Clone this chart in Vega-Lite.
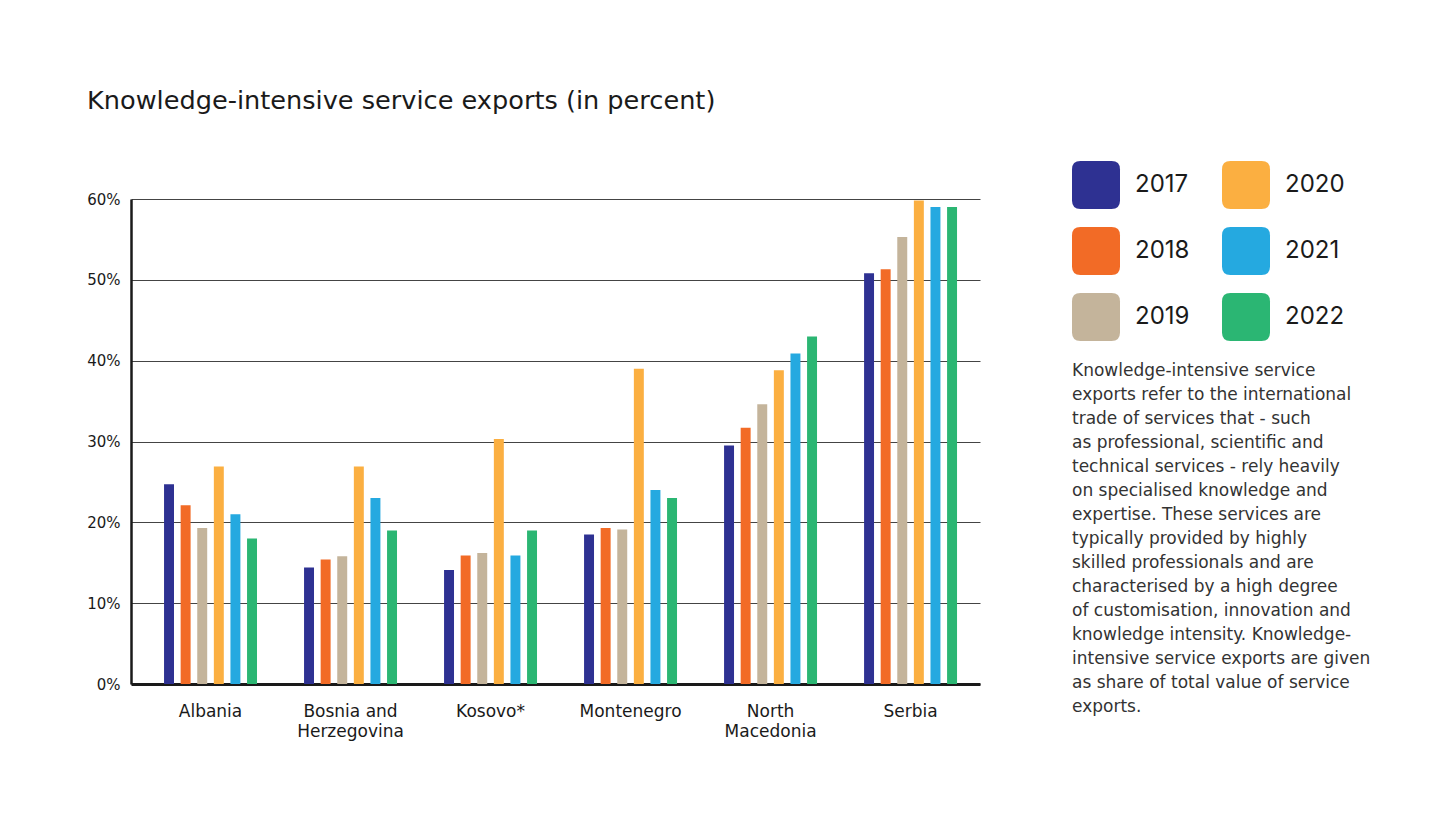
{
  "$schema": "https://vega.github.io/schema/vega-lite/v6.json",
  "width": 849,
  "height": 485,
  "autosize": {"type": "none"},
  "padding": {"left": 131, "top": 199, "right": 464, "bottom": 152},
  "background": "white",
  "title": {
    "text": "Knowledge-intensive service exports (in percent)",
    "anchor": "start",
    "frame": "group",
    "dx": -44,
    "offset": 46,
    "fontSize": 25.6,
    "font": "DejaVu Sans",
    "fontWeight": "normal",
    "color": "#1a1a1a"
  },
  "data": {
    "values": [
      {"country": "Albania", "year": "2017", "value": 24.7},
      {"country": "Albania", "year": "2018", "value": 22.1},
      {"country": "Albania", "year": "2019", "value": 19.3},
      {"country": "Albania", "year": "2020", "value": 26.9},
      {"country": "Albania", "year": "2021", "value": 21.0},
      {"country": "Albania", "year": "2022", "value": 18.0},
      {"country": "Bosnia and Herzegovina", "year": "2017", "value": 14.4},
      {"country": "Bosnia and Herzegovina", "year": "2018", "value": 15.4},
      {"country": "Bosnia and Herzegovina", "year": "2019", "value": 15.8},
      {"country": "Bosnia and Herzegovina", "year": "2020", "value": 26.9},
      {"country": "Bosnia and Herzegovina", "year": "2021", "value": 23.0},
      {"country": "Bosnia and Herzegovina", "year": "2022", "value": 19.0},
      {"country": "Kosovo*", "year": "2017", "value": 14.1},
      {"country": "Kosovo*", "year": "2018", "value": 15.9},
      {"country": "Kosovo*", "year": "2019", "value": 16.2},
      {"country": "Kosovo*", "year": "2020", "value": 30.3},
      {"country": "Kosovo*", "year": "2021", "value": 15.9},
      {"country": "Kosovo*", "year": "2022", "value": 19.0},
      {"country": "Montenegro", "year": "2017", "value": 18.5},
      {"country": "Montenegro", "year": "2018", "value": 19.3},
      {"country": "Montenegro", "year": "2019", "value": 19.1},
      {"country": "Montenegro", "year": "2020", "value": 39.0},
      {"country": "Montenegro", "year": "2021", "value": 24.0},
      {"country": "Montenegro", "year": "2022", "value": 23.0},
      {"country": "North Macedonia", "year": "2017", "value": 29.5},
      {"country": "North Macedonia", "year": "2018", "value": 31.7},
      {"country": "North Macedonia", "year": "2019", "value": 34.6},
      {"country": "North Macedonia", "year": "2020", "value": 38.8},
      {"country": "North Macedonia", "year": "2021", "value": 40.9},
      {"country": "North Macedonia", "year": "2022", "value": 43.0},
      {"country": "Serbia", "year": "2017", "value": 50.8},
      {"country": "Serbia", "year": "2018", "value": 51.3},
      {"country": "Serbia", "year": "2019", "value": 55.3},
      {"country": "Serbia", "year": "2020", "value": 59.8},
      {"country": "Serbia", "year": "2021", "value": 59.0},
      {"country": "Serbia", "year": "2022", "value": 59.0}
    ]
  },
  "mark": {"type": "bar"},
  "encoding": {
    "x": {
      "field": "country",
      "type": "nominal",
      "sort": ["Albania", "Bosnia and Herzegovina", "Kosovo*", "Montenegro", "North Macedonia", "Serbia"],
      "scale": {"paddingInner": 0.336, "paddingOuter": 0.2, "align": 0.59},
      "axis": {
        "title": null,
        "ticks": false,
        "domain": true,
        "domainColor": "#1a1a1a",
        "domainWidth": 3,
        "labelAngle": 0,
        "labelFont": "DejaVu Sans",
        "labelFontSize": 17,
        "labelFontWeight": "normal",
        "labelColor": "#1a1a1a",
        "labelPadding": 19,
        "labelLineHeight": 20,
        "labelBaseline": "top",
        "labelExpr": "datum.label == 'Bosnia and Herzegovina' ? ['Bosnia and', 'Herzegovina'] : datum.label == 'North Macedonia' ? ['North', 'Macedonia'] : datum.label"
      }
    },
    "xOffset": {
      "field": "year",
      "type": "nominal",
      "sort": ["2017", "2018", "2019", "2020", "2021", "2022"],
      "scale": {"paddingInner": 0.4, "paddingOuter": 0}
    },
    "y": {
      "field": "value",
      "type": "quantitative",
      "scale": {"domain": [0, 60], "nice": false},
      "axis": {
        "title": null,
        "values": [0, 10, 20, 30, 40, 50, 60],
        "labelExpr": "datum.value + '%'",
        "ticks": false,
        "domain": true,
        "domainColor": "#1a1a1a",
        "domainWidth": 2.5,
        "grid": true,
        "gridColor": "#444444",
        "gridWidth": 1,
        "labelFont": "DejaVu Sans",
        "labelFontSize": 15,
        "labelColor": "#1a1a1a",
        "labelPadding": 11
      }
    },
    "color": {
      "field": "year",
      "type": "nominal",
      "scale": {
        "domain": ["2017", "2018", "2019", "2020", "2021", "2022"],
        "range": ["#2E3192", "#F26B26", "#C4B49B", "#FBAF41", "#25A9E0", "#2BB673"]
      },
      "legend": {
        "orient": "none",
        "legendX": 941,
        "legendY": -38,
        "direction": "vertical",
        "columns": 2,
        "symbolType": "M -0.65 -1 L 0.65 -1 Q 1 -1 1 -0.65 L 1 0.65 Q 1 1 0.65 1 L -0.65 1 Q -1 1 -1 0.65 L -1 -0.65 Q -1 -1 -0.65 -1 Z",
        "symbolSize": 2304,
        "symbolStrokeWidth": 0,
        "symbolOpacity": 1,
        "labelFont": "Inter",
        "labelFontSize": 24,
        "labelColor": "#1a1a1a",
        "labelOffset": 15,
        "rowPadding": 18,
        "columnPadding": 32,
        "title": [
          "Knowledge-intensive service",
          "exports refer to the international",
          "trade of services that - such",
          "as professional, scientific and",
          "technical services - rely heavily",
          "on specialised knowledge and",
          "expertise. These services are",
          "typically provided by highly",
          "skilled professionals and are",
          "characterised by a high degree",
          "of customisation, innovation and",
          "knowledge intensity. Knowledge-",
          "intensive service exports are given",
          "as share of total value of service",
          "exports."
        ],
        "titleOrient": "bottom",
        "titleAnchor": "start",
        "titleAlign": "left",
        "titleFont": "DejaVu Sans",
        "titleFontSize": 17,
        "titleFontWeight": "normal",
        "titleColor": "#333333",
        "titleLineHeight": 24,
        "titleLimit": 420,
        "titlePadding": 22
      }
    }
  },
  "config": {"view": {"stroke": null}}
}
